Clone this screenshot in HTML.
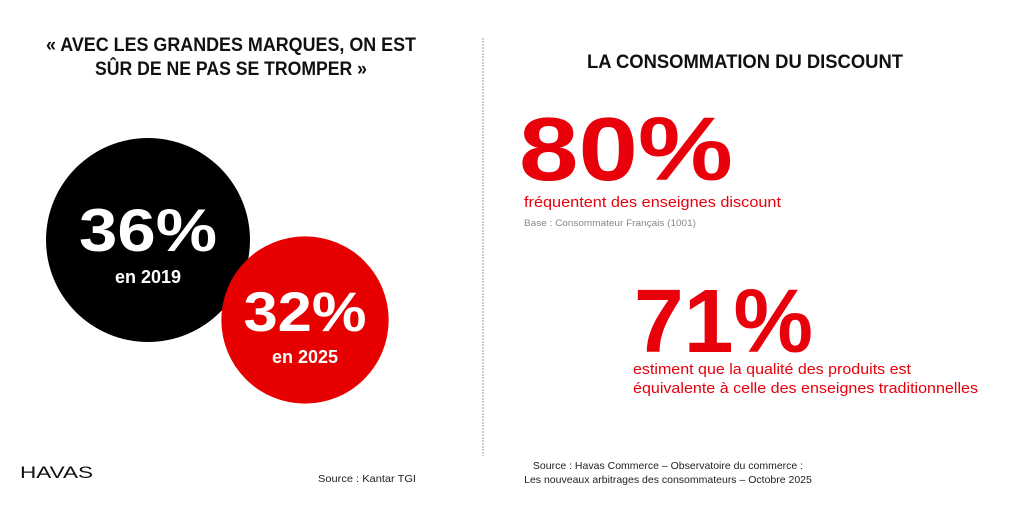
<!DOCTYPE html>
<html><head><meta charset="utf-8"><style>
html,body{margin:0;padding:0;background:#fff;}
svg{display:block;font-family:"Liberation Sans",sans-serif;}
</style></head><body>
<svg id="chart" width="1024" height="505" viewBox="0 0 1024 505">
<g font-weight="bold" font-size="19" fill="#111">
<text x="231" y="51" text-anchor="middle" textLength="370" lengthAdjust="spacingAndGlyphs">« AVEC LES GRANDES MARQUES, ON EST</text>
<text x="231" y="75" text-anchor="middle" textLength="272" lengthAdjust="spacingAndGlyphs">SÛR DE NE PAS SE TROMPER »</text>
</g>
<g id="bubbles"></g>
<line x1="483" y1="38" x2="483" y2="456" stroke="#aaa" stroke-width="1.2" stroke-dasharray="2,1"/>
<text x="745" y="68" text-anchor="middle" font-weight="bold" font-size="19" fill="#111" textLength="316" lengthAdjust="spacingAndGlyphs">LA CONSOMMATION DU DISCOUNT</text>
<g fill="#e8000b">
<text x="519" y="180" font-weight="bold" font-size="90" textLength="214" lengthAdjust="spacingAndGlyphs">80%</text>
<text x="524" y="207" font-size="15" textLength="257" lengthAdjust="spacingAndGlyphs">fréquentent des enseignes discount</text>
</g>
<text x="524" y="226" font-size="9" fill="#888" textLength="172" lengthAdjust="spacingAndGlyphs">Base : Consommateur Français (1001)</text>
<g fill="#e8000b">
<text x="634" y="352" font-weight="bold" font-size="90" textLength="179" lengthAdjust="spacingAndGlyphs">71%</text>
<text x="633" y="374" font-size="15" textLength="278" lengthAdjust="spacingAndGlyphs">estiment que la qualité des produits est</text>
<text x="633" y="393" font-size="15" textLength="345" lengthAdjust="spacingAndGlyphs">équivalente à celle des enseignes traditionnelles</text>
</g>
<text x="20" y="478" font-size="17" fill="#111" textLength="73" lengthAdjust="spacingAndGlyphs">HAVAS</text>
<text x="318" y="482" font-size="10.5" fill="#222" textLength="98" lengthAdjust="spacingAndGlyphs">Source :  Kantar TGI</text>
<text x="668" y="469" text-anchor="middle" font-size="10.5" fill="#222">Source :  Havas Commerce – Observatoire du commerce :</text>
<text x="668" y="483" text-anchor="middle" font-size="10.5" fill="#222">Les nouveaux arbitrages des consommateurs – Octobre 2025</text>
</svg>
<script>
const years = ["2019", "2025"];
const values = [36, 32];
const colors = ["#000", "#e60000"];
const cx = [148, 305], cy = [240, 320];
const valueWidths = [138, 123];
const ns = "http://www.w3.org/2000/svg";
const g = document.getElementById("bubbles");
function rScale(v){ return 102 * Math.sqrt(v / 36) * (v === 36 ? 1 : 0.87); }
values.forEach((v, i) => {
  const r = rScale(v);
  const c = document.createElementNS(ns, "circle");
  c.setAttribute("cx", cx[i]); c.setAttribute("cy", cy[i]); c.setAttribute("r", r);
  c.setAttribute("fill", colors[i]);
  
  
  g.appendChild(c);
  const t = document.createElementNS(ns, "text");
  t.setAttribute("x", cx[i]); t.setAttribute("y", cy[i] + 11);
  t.setAttribute("text-anchor", "middle"); t.setAttribute("fill", "#fff");
  t.setAttribute("font-weight", "bold"); t.setAttribute("font-size", i === 0 ? "60" : "56");
  t.setAttribute("textLength", valueWidths[i]); t.setAttribute("lengthAdjust", "spacingAndGlyphs");
  t.textContent = v + "%";
  
  
  g.appendChild(t);
  const l = document.createElementNS(ns, "text");
  l.setAttribute("x", cx[i]); l.setAttribute("y", cy[i] + 43);
  l.setAttribute("text-anchor", "middle"); l.setAttribute("fill", "#fff");
  l.setAttribute("font-weight", "bold"); l.setAttribute("font-size", "18");
  l.textContent = "en " + years[i];
  
  
  g.appendChild(l);
});
</script>
</body></html>
